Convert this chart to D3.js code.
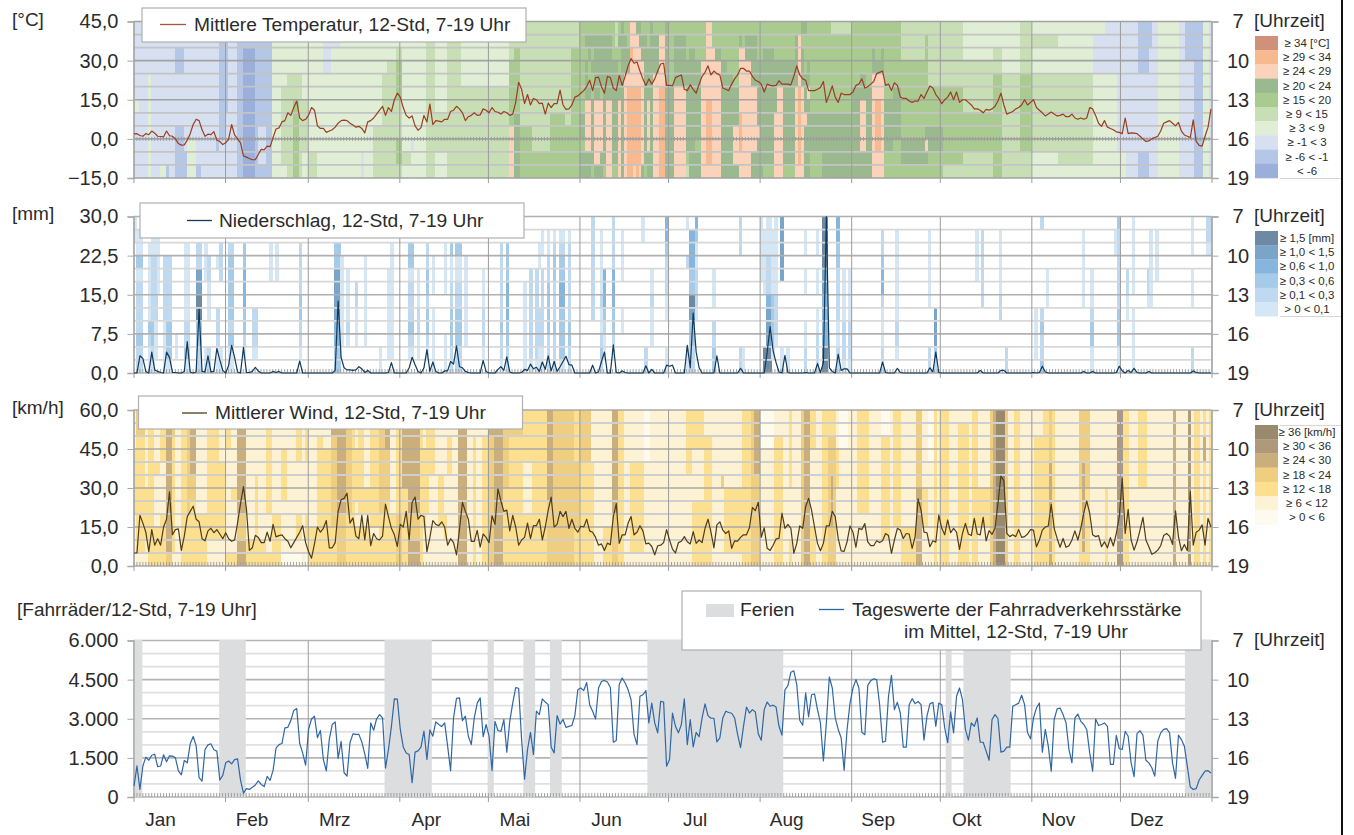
<!DOCTYPE html>
<html><head><meta charset="utf-8">
<script src="https://cdn.jsdelivr.net/npm/d3@7/dist/d3.min.js"></script>
<style>html,body{margin:0;padding:0;background:#fff}svg{display:block}text{font-family:"Liberation Sans",Arial,sans-serif;fill:#2b2b2b}</style>
</head><body><svg id="c" width="1354" height="835"></svg>
<script>
const months=["Jan","Feb","Mrz","Apr","Mai","Jun","Jul","Aug","Sep","Okt","Nov","Dez"];
const monthStart=[0,31,59,90,120,151,181,212,243,273,304,334];
const temperature=[1.9,2,1.3,1,2,1.6,3,2.2,1,0.9,0.8,3,1.2,1,0,-1.8,-2.4,-2.3,-0.5,2,5.5,7.5,7,3.5,1,1.8,1.6,2.8,-0.5,-1,-2.2,-1.5,0,5.5,1.5,0,-1.5,-6.5,-7,-7.5,-8,-8,-6,-4,-4.2,-2.8,-3,0.5,3.8,4.2,6.5,7,10,9,12,14.5,8,7,7.5,9,12,11,5,4,4,2.5,3,3.5,4.5,6,7,7.2,7,6,5.3,4.5,4.8,4,2.3,6.5,7,8,9.5,11,12.5,9,12,10.5,15,17.5,16,12,9,8,8.8,5,3.3,4.3,9,6.5,13.3,5.5,7,6.8,6.5,7.5,7.5,10.5,11,12.5,11.5,10,7,8.5,9,10,9,9.2,11.5,11,10,12,10.5,10.2,9.5,10.5,10,9,9.5,14,21.7,19,13.5,17,13,15.5,15,13.5,13.7,9.5,13.7,12,13.5,13.5,18.7,13,11.3,11.5,13,16,16.5,17.5,18.5,20,22.5,18.5,23.5,23.7,20,17.5,24,23.5,19.5,18.5,24.3,20.5,24,28,30.8,29,29.5,26,23,20.5,23,21,23,26,28.7,29,20.5,20.5,20.3,23.5,24,24.5,19,18.5,20.7,19,17.5,21,24,25.5,28,24.5,26,25,24.5,19.5,19,18.5,21,23,24.5,27,27,26,26,24,22.5,22,21,18,21,20.5,20.3,20.5,22.3,21,21,21,20.7,24,28,24.5,23,22.5,18.5,18.5,18.5,19,19.7,22,14,17,20.3,16,14,17.5,17,17,17,18,20.5,21,23,19.5,20,21,22,25,25.5,26,20.5,21,18.5,21.5,20.5,16,15.5,15.5,14.5,14,14.5,14.5,17,15.5,18,20.3,19.5,17,15.5,13.5,15,16,18,15,18,14,15,15,14,13,11.5,11.5,11,10,11.3,11,11.5,12.5,14.5,17.5,13,9.5,10,10.5,11.5,12,13,15,13,14,15,12,11,10,8.8,9.5,10.3,9.5,8.8,9,9.5,8.5,8.5,9.5,8,7.5,8,7.5,8,12,11.5,9,6,4.8,7,4.5,4,3.5,2.7,2.5,2,8,2,2.3,2.2,2,1,0,-1,-0.8,0,0.5,1,3,6,6.5,7,6,5,6.3,3,1.5,1,0.5,7.3,-1,-2.5,-2.8,1,4.5,11.5];
const rainDays=[2,3,4,6,7,8,9,11,12,13,14,17,18,19,21,22,23,24,25,26,27,28,29,30,32,33,34,35,37,38,39,40,41,42,47,48,49,56,68,69,70,71,72,73,74,75,76,77,78,79,86,87,93,94,95,96,98,99,100,101,102,105,106,107,108,109,110,111,112,113,118,119,123,124,125,126,127,131,132,133,134,135,136,137,138,139,140,141,142,143,144,145,146,147,148,155,157,158,159,162,163,165,166,173,175,180,181,182,187,188,189,190,191,197,205,214,215,216,217,218,220,221,227,231,232,233,234,235,236,238,239,240,241,253,254,258,259,269,270,271,272,286,293,294,304,306,307,308,321,324,332,333,334,336,337,338,339,343,358,359];
const rainValues=[3.3,2.8,0.3,4,0.6,0.3,0.1,4,3,0.1,0.1,0.3,6,0.2,0.2,12.2,0.3,0.2,3.3,0.2,0.3,4.7,2.5,0.5,1.5,5.3,3,0.2,4.9,0.1,0.1,0.3,1.1,0.4,0.3,0.1,0.3,2.3,0.5,13.8,3,1,0.6,0.6,0.5,0.6,1.2,0.8,0.1,0.5,0.1,2,1,3,1.6,0.3,1,4.5,0.3,2.1,0.3,0.4,0.4,2.2,1.7,5.2,1.2,1,0.3,0.1,2.4,0.3,0.7,1.2,0.5,3.1,0.2,0.1,0.7,0.5,1.7,0.8,1.1,0.3,2.1,0.7,3.3,0.4,2.2,0.3,1.2,2.2,3.2,1.6,1.5,1.5,0.2,2.2,4,5.4,0.1,0.4,0.1,1.4,0.7,1.5,1.3,1.5,5.3,1,11.5,4,1,3.3,0.9,4,8.9,4.3,2,0.2,3.4,0.1,0.1,1.8,0.1,2,30,1,0.3,3.6,0.5,0.8,0.8,2.1,0.1,0.9,0.1,1,0.2,4,0.1,0.5,0.5,0.5,0.1,0.1,1.3,0.2,0.3,0.3,0.1,1.3,0.4,0.5,0.1,0.9,0.1,0.3,0.4,0.1];
const wind=[5,5,19.5,16.5,13,5.5,14,8,10.5,8,15,18,28.5,12,14,14.3,6,11.5,19,21,23,18,17,10.5,9.7,13.5,14.5,12.8,14,12.3,10.5,12.8,10.5,9.5,10,16.5,24,30.5,22,6,7,11.8,11,9,9,13,9.5,16,11.2,11.7,12,10.5,9.5,7,9,11,13,15.5,9,5.5,3,8.5,15,13,14.5,17.5,7,7,9,21,25.5,26,28,16.5,18.5,11.5,10.5,19.5,10,19.5,7.8,12.5,10.5,10,11.5,23.8,19,14.5,12,7.5,16,15,21,10,24.5,26.5,18,19.5,19,5.5,11,17.5,16,15.5,17,15,8,10.5,9,4.3,14,24.5,21,18,9.5,9.5,13.7,7.3,12.3,11,9,19.3,16,29.7,25,21,21.5,13.5,19.5,15,8,10,11,16.5,10.5,15.5,15.5,18,10,15,21.5,26.5,15,16,21,19,21,14.5,18,14.5,13,15.3,15,18,13.5,13,11,8,8.5,6,8.8,8.2,19,24,8.7,12,12,16.5,19,12,13,15.5,13.5,8.5,8.8,7.5,4.3,7.8,8,9,14,10,6.5,5,9,9.5,11.3,9.3,8.5,13.2,8.7,10,9,14.5,18,13,7,15.8,17,13.8,12.5,13.5,6.8,9.7,9.6,11,12,12,14.7,22.5,21.3,24.5,11,14.7,6.8,6,8,10.4,10.6,20.3,14.5,16,14.5,4.9,8.7,15.4,14.5,22.8,26,21.5,15,8.7,5.9,8.7,15.4,15.4,21,19,10.6,5.8,5.6,9.3,15.4,13,7.2,14.5,14,16.3,9.3,7.8,7.8,9.7,9,9.7,12.5,11.7,4.9,10,14.5,13.8,10.6,12.5,12.3,6.8,11.3,25.8,21.5,13,12.8,7.4,9.7,9.2,19.6,14.5,12,17.7,12.8,14.5,13,6.4,12.5,16.4,12.3,11.7,18.3,12.3,12,18.7,9.7,13.6,12.2,14.5,24,34.6,32.8,12.5,11.3,12,11.3,14,11,11.3,12.3,14,13.8,7.4,10,13.8,15,15.4,23.7,14.5,10.6,7.2,10.6,7.2,7.8,10,13.5,10,14.5,20.3,25,20.3,12,11.3,11.7,7.4,9.3,7,10.9,7.7,12.5,19,33.7,12.5,21.8,10,6.1,9.3,13.8,18.7,10,7.4,4.5,5.1,6.1,7.8,11.7,12.5,11.5,8.3,21.2,11.3,5.9,8.3,5.9,28.6,8,13,13.8,15.8,8,18.3,15];
const cyclists=[420,1190,290,1190,1530,1410,1600,1640,1160,1190,1620,1350,1580,1570,1500,1000,850,1400,1310,2040,2320,1970,740,610,1820,2000,2040,1810,1760,650,830,1310,1380,1270,1430,1460,650,150,320,290,370,460,620,480,400,790,640,1020,1870,2010,2050,2650,2670,2930,3320,3390,2050,1690,1220,2590,2990,3100,2270,2550,1440,1000,2200,2780,2880,1480,2130,930,800,2080,2420,2400,2400,2110,1640,1100,2840,2560,3000,3160,3030,1110,1820,2710,3760,3750,2590,1920,1690,1630,550,1720,1770,1910,2530,1440,2570,2330,2880,2780,2700,2840,1950,1010,3030,3780,3800,2930,3100,2330,2010,3030,3600,3800,2310,2780,2330,1010,2900,2550,2510,2970,1720,2900,3600,4190,4170,2200,680,1820,2480,1630,3290,3160,3760,3640,3540,1910,1690,3120,2800,2970,2670,2710,2740,3120,4110,4180,4080,4390,3540,3290,2990,4180,4430,4470,4410,4200,2100,2170,4310,4560,4370,4110,3730,2400,2010,3860,3920,4080,2840,3600,2840,2460,3670,3640,1180,1440,3220,2710,2460,2780,3760,2010,2970,1920,2480,2310,3030,3570,3120,3020,3020,2110,2270,3030,3290,3240,3210,3030,2400,1890,2710,3450,3220,3350,3260,2420,2180,3350,3640,3480,3520,3450,2710,2370,4110,4270,4780,4840,4310,2940,2750,3990,3070,3920,3950,3350,2840,1380,2840,4600,4180,3030,2590,2270,1030,2590,3600,4180,4500,4180,2480,2390,4280,4460,4530,4500,3540,2100,2140,3860,4660,3350,3630,3220,1910,1910,3540,3770,3580,3660,3540,2180,3100,3570,3630,2710,3600,3540,2650,2080,3260,2460,3860,4180,3730,2590,2180,2840,2710,3030,2100,2100,1760,1410,2970,3160,3010,1720,1760,1910,1910,3480,3540,3600,3900,3540,2460,2230,3030,3410,3600,1720,2590,1950,990,2970,3380,3410,3160,2840,1820,1310,3030,3180,2900,2780,2590,1690,990,2990,2740,2780,2840,2710,1250,1250,2360,1850,1820,2520,2330,1310,780,2430,2540,2370,1410,1310,1120,800,2140,2460,2590,2620,2460,1310,710,2370,2200,1950,1180,380,290,320,650,830,990,1010,920];
const holidayStart=[0,29,85,120,132,141,174,275,281,356];
const holidayEnd=[3,38,101,122,136,145,220,277,297,365];
const tempClasses=["#9ab0da","#b4c7e6","#d6e0f1","#e0eed5","#c8dfb6","#aacb90","#9bb98e","#fbd3bb","#f9b98f","#d0917a"];
const tempLabels=["≥ 34 [°C]","≥ 29 < 34","≥ 24 < 29","≥ 20 < 24","≥ 15 < 20","≥ 9 < 15","≥ 3 < 9","≥ -1 < 3","≥ -6 < -1","< -6"];
const rainClasses=["#ffffff","#d5e6f5","#bed9f0","#a6cbe8","#86b6de","#7aa4c8","#6e8aa3"];
const rainLabels=["≥ 1,5 [mm]","≥ 1,0 < 1,5","≥ 0,6 < 1,0","≥ 0,3 < 0,6","≥ 0,1 < 0,3","> 0 < 0,1"];
const windClasses=["#fffaee","#fef2d4","#fde08f","#efcf7f","#caaf7c","#b0997a","#998a6e"];
const windLabels=["≥ 36 [km/h]","≥ 30 < 36","≥ 24 < 30","≥ 18 < 24","≥ 12 < 18","≥ 6 < 12","> 0 < 6"];
const tempCells=[[0,1,"222222322222"],[2,4,"222222222222"],[5,5,"222233333333"],[6,8,"222222222222"],[9,10,"222222222223"],[11,11,"222222222221"],[12,13,"222222222222"],[14,16,"221122221111"],[17,17,"222222222211"],[18,20,"222222222333"],[21,22,"222222222221"],[23,27,"222222222222"],[28,28,"222222222122"],[29,30,"111111111222"],[31,31,"111111122222"],[32,34,"222222222222"],[35,36,"111111111111"],[37,40,"110000000000"],[41,41,"111111111111"],[42,44,"111111112221"],[45,46,"111111111111"],[47,49,"333333333333"],[50,51,"333334444443"],[52,53,"333344444444"],[54,55,"333344555555"],[56,56,"333344444444"],[57,58,"333333444433"],[59,61,"333333333344"],[62,63,"333333333333"],[64,66,"222233333333"],[67,69,"223333333333"],[70,76,"333333333333"],[77,77,"333333333322"],[78,80,"333333333333"],[81,83,"333333334444"],[84,85,"333344444444"],[86,88,"333444444444"],[89,90,"334555444554"],[91,93,"333333333343"],[94,94,"233333333233"],[95,98,"333333333333"],[99,101,"344444444444"],[102,105,"333333344433"],[106,110,"344444444444"],[111,126,"333334444444"],[127,128,"444555557777"],[129,130,"445555566666"],[131,134,"444444445555"],[135,140,"444444444455"],[141,145,"444444455555"],[146,147,"444444445555"],[148,150,"445555555555"],[151,152,"555555566566"],[153,153,"565666777766"],[154,154,"566556777766"],[155,155,"565655666665"],[156,157,"566666777776"],[158,158,"566665777766"],[159,159,"566666666665"],[160,161,"566666777777"],[162,162,"555666666665"],[163,163,"445666666665"],[164,164,"565566777777"],[165,165,"666666666666"],[166,166,"566677777777"],[167,167,"556678888888"],[168,168,"778778888888"],[169,169,"777778888887"],[170,170,"677778888888"],[171,171,"667778888887"],[172,172,"566777777776"],[173,173,"566666666665"],[174,174,"556666777766"],[175,175,"666666666666"],[176,177,"566677777777"],[178,179,"577778888888"],[180,180,"666666666666"],[181,182,"555556666666"],[183,186,"566667777777"],[187,187,"555666666654"],[188,189,"556666666666"],[190,191,"555666666566"],[192,193,"555777777777"],[194,195,"777777888887"],[196,196,"557777777777"],[197,198,"556777777777"],[199,200,"555666666666"],[201,202,"555566666666"],[203,204,"555556667776"],[205,205,"567777788877"],[206,206,"557777777777"],[207,208,"566777777777"],[209,210,"566667777766"],[211,211,"555666667666"],[212,212,"555666666666"],[213,216,"556666666665"],[217,217,"555666677777"],[218,219,"555667777777"],[220,223,"555666666665"],[224,224,"566667777777"],[225,225,"577778888887"],[226,226,"656667777777"],[227,227,"655566676666"],[228,228,"555667666666"],[229,232,"555555566655"],[233,235,"555555566666"],[236,242,"455555566666"],[243,245,"555556666666"],[246,247,"555566777766"],[248,249,"555556666666"],[250,250,"556677777777"],[251,252,"555677888877"],[253,253,"556677777777"],[254,256,"555555666655"],[257,259,"555556666555"],[260,267,"444555555665"],[268,268,"455555556765"],[269,273,"444445556655"],[274,280,"444445555554"],[281,290,"333444455544"],[291,293,"334455555555"],[294,299,"333344444444"],[300,303,"444455555544"],[304,312,"343344444433"],[313,324,"333344444443"],[325,328,"322233333333"],[329,332,"222233333333"],[333,335,"222222222233"],[336,339,"222222222222"],[340,343,"111122222211"],[344,344,"112222222222"],[345,346,"222222222222"],[347,353,"333333333333"],[354,355,"222222222222"],[356,358,"111222222222"],[359,361,"111111111111"],[362,363,"333333333333"],[364,364,"222222222222"]];
const rainCells=[[0,0,"110000000000"],[1,2,"011312222322"],[5,5,"001111113211"],[6,6,"011222223321"],[7,7,"011222221110"],[8,8,"011111000000"],[10,10,"000222221111"],[11,12,"000222223331"],[14,14,"000000000110"],[17,18,"001111112231"],[21,22,"002255663322"],[24,24,"001110000011"],[25,25,"000221110022"],[28,28,"000100022211"],[29,29,"002220000011"],[32,33,"002333332311"],[37,37,"003344433210"],[40,41,"000000022210"],[46,46,"001110000000"],[48,48,"001110000000"],[56,56,"002222332210"],[68,69,"003355554433"],[70,70,"000111111100"],[72,72,"000011112100"],[75,75,"000002211100"],[78,78,"000111111100"],[83,83,"000000000011"],[86,86,"000011111110"],[87,87,"001111111110"],[93,94,"003312223210"],[96,96,"000011122110"],[99,99,"002233233210"],[101,101,"000111011111"],[105,105,"001111000111"],[107,107,"003112233322"],[109,110,"003112233322"],[112,112,"000111111100"],[118,118,"000011122210"],[124,124,"002222223221"],[126,126,"003334443322"],[132,132,"000001111111"],[134,134,"000022222221"],[136,136,"000022222221"],[137,137,"001100022211"],[138,138,"011022222211"],[140,140,"011223333222"],[142,142,"012332223222"],[144,145,"012334433331"],[147,147,"012222223322"],[155,155,"222222220000"],[158,158,"011111211232"],[159,159,"000044432110"],[162,162,"222244433210"],[165,165,"011110011000"],[172,172,"110000000000"],[173,173,"000000000022"],[175,175,"000011211100"],[180,180,"443222110011"],[187,187,"100200000011"],[188,189,"044433653322"],[190,190,"431122210000"],[196,196,"000011102233"],[205,205,"222000000022"],[206,206,"000000000011"],[212,212,"111110000000"],[213,213,"011111000066"],[214,215,"111222455566"],[216,216,"011111333310"],[217,217,"111111222100"],[219,219,"555550000011"],[221,221,"000000000011"],[227,227,"011011001122"],[231,231,"011011011222"],[233,234,"666655444466"],[238,238,"443322221122"],[240,240,"000011112221"],[242,242,"000011112221"],[253,253,"022344211122"],[258,258,"011111112210"],[269,269,"011111100022"],[271,271,"000000055532"],[285,285,"011110000000"],[287,287,"022222200000"],[293,293,"011111220000"],[295,295,"000000000022"],[305,305,"000000011110"],[307,307,"200000023223"],[309,309,"000011100000"],[321,321,"011111100000"],[324,324,"000011123311"],[332,332,"011000000000"],[333,333,"322222233311"],[336,336,"000022110000"],[338,338,"111111011111"],[343,343,"000022100000"],[344,344,"011111100000"],[346,346,"011110000000"],[358,358,"111011100022"],[363,364,"221000000000"]];
const windCells=[[0,0,"111222221110"],[1,3,"332222222221"],[4,4,"111111222211"],[5,6,"222222222222"],[7,8,"111121111222"],[9,10,"222211112222"],[11,12,"444444444443"],[13,13,"332222222221"],[14,15,"111111111111"],[16,17,"222222222222"],[18,18,"333333332222"],[19,20,"344443322222"],[21,24,"111111112222"],[25,28,"222222222211"],[29,30,"111122222211"],[31,32,"222111111112"],[33,34,"111111211112"],[35,37,"444444443344"],[38,40,"111111111122"],[41,41,"111112222222"],[42,44,"111111111122"],[45,46,"222222221112"],[47,49,"111111112222"],[50,51,"111222211110"],[52,54,"111111111110"],[55,56,"222211112210"],[57,57,"111111111111"],[58,58,"222211112210"],[59,61,"011111111222"],[62,63,"212222222222"],[64,66,"111222222222"],[67,68,"443333333222"],[69,71,"444444443333"],[72,73,"333333332222"],[74,74,"222222222222"],[75,75,"111222211222"],[76,77,"222222221222"],[78,79,"111111221222"],[80,82,"222222222122"],[83,84,"333333332222"],[85,86,"444333322222"],[87,88,"111111112222"],[89,90,"222222223333"],[91,92,"444444222222"],[93,96,"444444443344"],[97,97,"222222222222"],[98,98,"111222222111"],[99,99,"222222221111"],[100,101,"222221111111"],[102,102,"111111111111"],[103,104,"111112222111"],[105,105,"111111112211"],[106,107,"112221111111"],[108,109,"111111111111"],[110,112,"444444444444"],[113,114,"111111111111"],[115,115,"112222222222"],[116,117,"111111111111"],[118,119,"112222222222"],[120,121,"443333333333"],[122,124,"444444444444"],[125,126,"333333222222"],[127,131,"332222222222"],[132,134,"222211112222"],[135,139,"222222222222"],[140,141,"444444433333"],[142,148,"333333333333"],[149,150,"222233333222"],[151,154,"333322222222"],[155,155,"111122222222"],[156,158,"111111111111"],[159,161,"111111111222"],[162,163,"444444443333"],[164,165,"222222222222"],[166,167,"111111111111"],[168,172,"111122222221"],[173,174,"000011111111"],[175,180,"111111111111"],[181,186,"111111111111"],[187,188,"222221111111"],[189,192,"222111122222"],[193,195,"112222222222"],[196,198,"111111111111"],[199,199,"111113111111"],[200,205,"111111222221"],[206,208,"222222222222"],[209,209,"333333333333"],[210,211,"444443333333"],[212,216,"000111111111"],[217,219,"112222222222"],[220,221,"111111111111"],[222,222,"222222111122"],[223,225,"111111111111"],[226,226,"333333333333"],[227,228,"444444444444"],[229,230,"222111111222"],[231,232,"111111111111"],[233,234,"222222222222"],[235,235,"223333333333"],[236,236,"223334444333"],[237,237,"223333333333"],[238,238,"111222111111"],[239,241,"000111111111"],[242,244,"111111111111"],[245,248,"222222221111"],[249,252,"111111111111"],[253,255,"002222222211"],[256,256,"111111111111"],[257,259,"222222222111"],[260,264,"111111111222"],[265,266,"333333444444"],[267,268,"111111222111"],[269,270,"000011111111"],[271,271,"222222222222"],[272,272,"111111111111"],[273,275,"222222222222"],[276,278,"111111111111"],[279,282,"122222222222"],[283,283,"111111111111"],[284,285,"222222222222"],[286,289,"111111222111"],[290,290,"333333333333"],[291,291,"444444444444"],[292,294,"666666666666"],[295,295,"333333333333"],[296,297,"111111111111"],[298,299,"222222222222"],[300,304,"111111111111"],[305,307,"112222222222"],[308,309,"222222222222"],[310,310,"333344444444"],[311,311,"222222222222"],[312,319,"111111111111"],[320,320,"333333222222"],[321,321,"333344444442"],[322,323,"333333222222"],[324,328,"111111111111"],[329,329,"111111222222"],[330,332,"111111111111"],[333,334,"555555555555"],[335,336,"222222222222"],[337,339,"111111111111"],[340,342,"222222111111"],[343,351,"111111111111"],[352,352,"444444444444"],[353,356,"111111111111"],[357,357,"555555555555"],[358,358,"111111111111"],[359,360,"222222222222"],[361,361,"111111111111"],[362,362,"224422222222"],[363,363,"111111111111"],[364,364,"222222222222"]];

const fmtLocale=d3.formatLocale({decimal:",",thousands:".",grouping:[3],currency:["","€"]});
const fmt1=fmtLocale.format(".1f"), fmt0=fmtLocale.format(",.0f");
const svg=d3.select("#c");
const L=133.5,R=1211.5;
const xDay=d3.scaleLinear().domain([0,365]).range([L,R]);
const hourTicks=d3.range(7,20);
const panels=[
 {top:21.5,bot:178,dom:[-15,45],ticks:[-15,0,15,30,45],fmt:fmt1,unit:"[°C]",unitY:26,zeroY:0,cells:tempCells,classes:tempClasses,vals:temperature,col:"#9a3d20",maj:"#a2a2a2",min:"#c4c4c4"},
 {top:216.5,bot:373,dom:[0,30],ticks:[0,7.5,15,22.5,30],fmt:fmt1,unit:"[mm]",unitY:220,zeroY:0,cells:rainCells,classes:rainClasses,vals:null,col:"#0f3a5c",maj:"#b0b0b0",min:"#d8d8d8"},
 {top:410,bot:566,dom:[0,60],ticks:[0,15,30,45,60],fmt:fmt1,unit:"[km/h]",unitY:414,zeroY:0,cells:windCells,classes:windClasses,vals:wind,col:"#4f3c18",maj:"#a8a8a8",min:"#cfcfcf"},
 {top:640.5,bot:797,dom:[0,6000],ticks:[0,1500,3000,4500,6000],fmt:fmt0,unit:null,zeroY:0,cells:null,vals:cyclists,col:"#2f67a5",maj:"#b4b4b4",min:"#e0e0e0"}
];
const rainSeries=d3.range(365).map(()=>0);
rainDays.forEach((d,i)=>{rainSeries[d]=rainValues[i];});
panels[1].vals=rainSeries;

panels.forEach(p=>{
 const g=svg.append("g");
 const y=d3.scaleLinear().domain(p.dom).range([p.bot,p.top]);
 const yH=d3.scaleLinear().domain([7,19]).range([p.top,p.bot]);
 if(p.cells){
  const cols=[];
  p.cells.forEach(([a,b,s])=>{d3.range(a,b+1).forEach(d=>{s.split("").forEach((c,r)=>{cols.push({d,r,c:+c});});});});
  g.append("g").selectAll("rect").data(cols.filter(c=>p.classes[c.c]!=="#ffffff")).join("rect")
   .attr("x",c=>xDay(c.d)).attr("width",c=>xDay(c.d+1)-xDay(c.d)+0.4)
   .attr("y",c=>yH(7+c.r)).attr("height",c=>yH(8+c.r)-yH(7+c.r)+0.4)
   .attr("fill",c=>p.classes[c.c]).attr("shape-rendering","crispEdges");
 }
 // hour grid
 g.append("g").selectAll("line").data(hourTicks).join("line")
  .attr("x1",L).attr("x2",R).attr("y1",h=>yH(h)).attr("y2",h=>yH(h))
  .attr("stroke",h=>(h-7)%3===0?p.maj:p.min)
  .attr("stroke-width",h=>(h-7)%3===0?1.6:1.8);
 // month lines
 const mg=g.append("g").attr("transform",`translate(0,${p.bot})`)
  .call(d3.axisBottom(xDay).tickValues(monthStart.concat([365])).tickSize(5).tickFormat(""));
 mg.select(".domain").remove();
 mg.selectAll("line").attr("stroke","#9c9c9c").attr("y1",-(p.bot-p.top)).attr("y2",5);
 if(!p.cells){
  g.append("g").selectAll("rect").data(holidayStart).join("rect")
   .attr("x",d=>xDay(d)).attr("width",(d,i)=>xDay(holidayEnd[i])-xDay(d))
   .attr("y",p.top-0.5).attr("height",p.bot-p.top+0.5).attr("fill","#dcddde");
 }
 // daily ticks along value zero
 const dg=g.append("g").attr("transform",`translate(0,${y(p.zeroY)+ (p.dom[0]<0?2:0)})`)
  .call(d3.axisBottom(xDay).tickValues(d3.range(0,365)).tickSize(-4).tickFormat(""));
 dg.select(".domain").remove();
 dg.selectAll("line").attr("stroke","#9a9a9a").attr("stroke-width",0.9);
 // left axis
 const la=g.append("g").attr("transform",`translate(${L},0)`)
  .call(d3.axisLeft(y).tickValues(p.ticks).tickSize(6).tickPadding(9).tickFormat(p.fmt));
 la.select(".domain").attr("stroke","#a8a8a8").attr("stroke-width",1.4);
 la.selectAll("line").attr("stroke","#a8a8a8");
 la.selectAll("text").attr("font-size",20).attr("font-family","Liberation Sans").attr("fill","#2b2b2b");
 // right axis
 const ra=g.append("g").attr("transform",`translate(${R},0)`)
  .call(d3.axisRight(yH).tickValues([7,10,13,16,19]).tickSize(7).tickPadding(17).tickFormat(d3.format("d")));
 ra.select(".domain").attr("stroke","#a8a8a8").attr("stroke-width",1.4);
 ra.selectAll("line").attr("stroke","#a8a8a8");
 ra.selectAll("text").attr("font-size",20).attr("text-anchor","middle").attr("dx",2.5).attr("font-family","Liberation Sans").attr("fill","#2b2b2b");
 g.append("text").attr("x",1254).attr("y",p.top+5.5).attr("font-size",19).text("[Uhrzeit]");
 if(p.unit) g.append("text").attr("x",12).attr("y",p.unitY).attr("font-size",19).text(p.unit);
 // data line
 const xL=d3.scaleLinear().domain([0,p.vals.length-1]).range([L+0.5,R-0.5]);
 g.append("path").datum(p.vals).attr("fill","none").attr("stroke",p.col).attr("stroke-width",1.2)
  .attr("stroke-linejoin","round")
  .attr("d",d3.line().x((v,i)=>xL(i)).y(v=>y(v)));
});

// bottom labels
svg.append("g").selectAll("text").data(months).join("text")
 .attr("x",(m,i)=>xDay(monthStart[i])+27).attr("y",826).attr("text-anchor","middle").attr("font-size",19).text(m=>m);
svg.append("text").attr("x",17).attr("y",616).attr("font-size",19).text("[Fahrräder/12-Std, 7-19 Uhr]");

// heat legends
function heatLegend(top,labels,classes,lineAt){
 const h=14.2;
 const order=classes.filter(c=>c!=="#ffffff").slice().reverse();
 const g=svg.append("g");
 g.selectAll("rect").data(labels).join("rect").attr("x",1255).attr("width",23)
  .attr("y",(l,i)=>top+i*h).attr("height",h+0.3).attr("fill",(l,i)=>order[i]);
 g.selectAll("text").data(labels).join("text").attr("x",1307).attr("text-anchor","middle")
  .attr("y",(l,i)=>top+i*h+11).attr("font-size",11.5).attr("fill","#333").text(l=>l);
 g.append("line").attr("x1",1280).attr("x2",1342).attr("y1",lineAt).attr("y2",lineAt).attr("stroke","#d6d6d6");
}
heatLegend(36,tempLabels,tempClasses,178.5);
heatLegend(231,rainLabels,rainClasses,316.5);
heatLegend(425,windLabels,windClasses,425.5);

// series legends
function legendBox(x,y,w,h){
 return svg.append("rect").attr("x",x).attr("y",y).attr("width",w).attr("height",h).attr("fill","#fff").attr("stroke","#b0b0b0").attr("stroke-width",1.2);
}
function legendLine(x1,x2,y,c){svg.append("line").attr("x1",x1).attr("x2",x2).attr("y1",y).attr("y2",y).attr("stroke",c).attr("stroke-width",1.3);}
const legendFont=19.2;
legendBox(142,8,384,34);
legendLine(160,186,24.5,"#a8573c");
svg.append("text").attr("x",194).attr("y",31).attr("font-size",legendFont).text("Mittlere Temperatur, 12-Std, 7-19 Uhr");
legendBox(140,203,384,35);
legendLine(187,212,220.5,"#0f3a5c");
svg.append("text").attr("x",219).attr("y",226.5).attr("font-size",legendFont).text("Niederschlag, 12-Std, 7-19 Uhr");
legendBox(138.5,396,384,33);
legendLine(182,207,413,"#4f3c18");
svg.append("text").attr("x",215).attr("y",419).attr("font-size",legendFont).text("Mittlerer Wind, 12-Std, 7-19 Uhr");
legendBox(682,591,519,59);
svg.append("rect").attr("x",706).attr("y",604).attr("width",28).attr("height",13).attr("fill","#dcddde");
svg.append("text").attr("x",740).attr("y",616).attr("font-size",legendFont).text("Ferien");
legendLine(819,844,609.5,"#2f67a5");
svg.append("text").attr("x",852).attr("y",616).attr("font-size",legendFont).text("Tageswerte der Fahrradverkehrsstärke");
svg.append("text").attr("x",904).attr("y",638).attr("font-size",legendFont).text("im Mittel, 12-Std, 7-19 Uhr");
// right border
svg.append("rect").attr("x",1341).attr("y",0).attr("width",2).attr("height",835).attr("fill","#111");
</script></body></html>
